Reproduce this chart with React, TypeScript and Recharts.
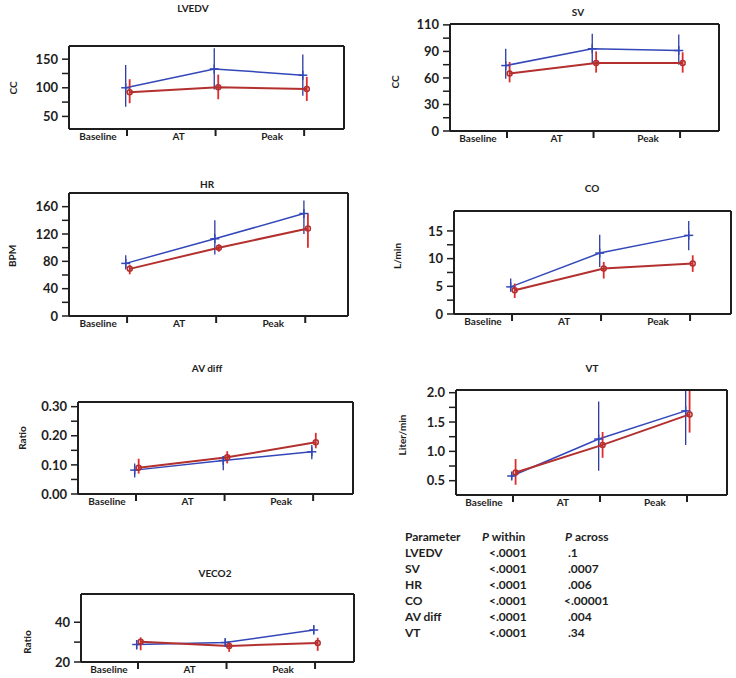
import React from "react";
import { LineChart, Line, XAxis, YAxis, ErrorBar } from "recharts";

const phases = ["Baseline", "AT", "Peak"];

// LVEDV (cc)
const lvedvBlue = [100, 133, 122];
const lvedvBlueLo = [67, 97, 86];
const lvedvBlueHi = [140, 169, 158];
const lvedvRed = [92, 101, 98];
const lvedvRedLo = [73, 80, 77];
const lvedvRedHi = [115, 123, 119];
const lvedvTicks = [50, 75, 100, 125, 150];
const lvedvTickLabels = ["50", "", "100", "", "150"];

// SV (cc)
const svBlue = [74, 93, 91];
const svBlueLo = [59, 76, 75];
const svBlueHi = [93, 110, 109];
const svRed = [65, 77, 77];
const svRedLo = [55, 66, 66];
const svRedHi = [78, 90, 89];
const svTicks = [0, 15, 30, 45, 60, 75, 90, 105, 120];
const svTickLabels = ["0", "", "30", "", "60", "", "90", "", "110"];

// HR (bpm)
const hrBlue = [77, 113, 150];
const hrBlueLo = [68, 90, 120];
const hrBlueHi = [89, 140, 169];
const hrRed = [69, 100, 128];
const hrRedLo = [61, 94, 100];
const hrRedHi = [75, 105, 150];
const hrTicks = [0, 20, 40, 60, 80, 100, 120, 140, 160];
const hrTickLabels = ["0", "", "40", "", "80", "", "120", "", "160"];

// CO (L/min)
const coBlue = [4.9, 11.0, 14.2];
const coBlueLo = [4.0, 8.5, 11.5];
const coBlueHi = [6.4, 14.3, 16.8];
const coRed = [4.3, 8.2, 9.1];
const coRedLo = [2.9, 6.4, 7.6];
const coRedHi = [5.5, 9.4, 10.6];
const coTicks = [0, 2.5, 5, 7.5, 10, 12.5, 15];
const coTickLabels = ["0", "", "5", "", "10", "", "15"];

// AV diff (ratio)
const avBlue = [0.082, 0.115, 0.145];
const avBlueLo = [0.057, 0.082, 0.119];
const avBlueHi = [0.105, 0.13, 0.168];
const avRed = [0.09, 0.126, 0.178];
const avRedLo = [0.07, 0.105, 0.157];
const avRedHi = [0.121, 0.147, 0.21];
const avTicks = [0, 0.05, 0.1, 0.15, 0.2, 0.25, 0.3];
const avTickLabels = ["0.00", "", "0.10", "", "0.20", "", "0.30"];

// VT (liter/min)
const vtBlue = [0.58, 1.21, 1.69];
const vtBlueLo = [0.52, 0.67, 1.11];
const vtBlueHi = [0.64, 1.85, 2.04];
const vtRed = [0.64, 1.11, 1.63];
const vtRedLo = [0.43, 0.89, 1.32];
const vtRedHi = [0.87, 1.33, 2.04];
const vtTicks = [0.5, 0.75, 1.0, 1.25, 1.5, 1.75, 2.0];
const vtTickLabels = ["0.5", "", "1.0", "", "1.5", "", "2.0"];

// VECO2 (ratio)
const veBlue = [28.8, 29.8, 36.1];
const veBlueLo = [26.3, 28, 34];
const veBlueHi = [31, 31.5, 38.6];
const veRed = [30.2, 28.1, 29.6];
const veRedLo = [25.9, 25.1, 25.6];
const veRedHi = [32.4, 30.2, 32.2];
const veTicks = [20, 30, 40];
const veTickLabels = ["20", "", "40"];

// p-value table
const tableParams = ["LVEDV", "SV", "HR", "CO", "AV diff", "VT"];
const tableWithin = ["<.0001", "<.0001", "<.0001", "<.0001", "<.0001", "<.0001"];
const tableAcross = [".1", ".0007", ".006", "<.00001", ".004", ".34"];

const FONT = "Lato, 'Open Sans', sans-serif";
const INK = "#1e1e1e";
const BLUE_LINE = "#3347b8";
const BLUE_BAR = "#2b3aa0";
const RED_LINE = "#b3302f";
const RED_BAR = "#e02b2b";

const labelShift = [-29, -37, -32];

function buildRows(blue: number[], blueLo: number[], blueHi: number[], red: number[], redLo: number[], redHi: number[]) {
  return phases.map((p, i) => ({
    phase: p,
    xb: i + 1 - 0.015,
    xr: i + 1 + 0.03,
    blue: blue[i],
    blueErr: [blue[i] - blueLo[i], blueHi[i] - blue[i]],
    red: red[i],
    redErr: [red[i] - redLo[i], redHi[i] - red[i]],
  }));
}

function PhaseTick(props: any) {
  const { x, y, payload } = props;
  const i = Math.round(payload.value) - 1;
  return (
    <g>
      <line x1={x} x2={x} y1={y + 1} y2={y + 7} stroke={INK} strokeWidth={2} />
      <text
        x={x + labelShift[i]}
        y={y + 11}
        textAnchor="middle"
        fontSize={10}
        fontWeight={700}
        fill={INK}
        fontFamily={FONT}
      >
        {phases[i]}
      </text>
    </g>
  );
}

function PlusDot(props: any) {
  const { cx, cy, index } = props;
  if (cx == null || cy == null) return null;
  return (
    <g key={`p-${index}`}>
      <line x1={cx - 4.5} x2={cx + 4.5} y1={cy} y2={cy} stroke={BLUE_LINE} strokeWidth={1.5} />
      <line x1={cx} x2={cx} y1={cy - 4.5} y2={cy + 4.5} stroke={BLUE_LINE} strokeWidth={1.5} />
    </g>
  );
}

function RingDot(props: any) {
  const { cx, cy, index } = props;
  if (cx == null || cy == null) return null;
  return <circle key={`r-${index}`} cx={cx} cy={cy} r={2.5} fill="none" stroke={RED_LINE} strokeWidth={1.5} />;
}

interface PanelProps {
  rows: ReturnType<typeof buildRows>;
  box: { l: number; t: number; r: number; b: number };
  xDomain: [number, number];
  yDomain: [number, number];
  ticks: number[];
  tickLabels: string[];
}

function Panel({ rows, box, xDomain, yDomain, ticks, tickLabels }: PanelProps) {
  const w = box.r - box.l + 50;
  const h = box.b - box.t + 38;
  const frame = { stroke: INK, strokeWidth: 2 };
  return (
    <div style={{ position: "absolute", left: box.l - 45, top: box.t - 12 }}>
      <LineChart width={w} height={h} data={rows} margin={{ top: 11, right: 4, bottom: 4, left: 5 }}>
        <XAxis
          xAxisId="b"
          type="number"
          dataKey="xb"
          domain={xDomain}
          ticks={[1, 2, 3]}
          tick={<PhaseTick />}
          tickLine={false}
          tickSize={0}
          tickMargin={0}
          axisLine={frame}
          height={22}
          allowDataOverflow
        />
        <XAxis
          xAxisId="t"
          orientation="top"
          type="number"
          dataKey="xr"
          domain={xDomain}
          tick={false}
          tickLine={false}
          axisLine={frame}
          height={1}
          allowDataOverflow
        />
        <YAxis
          yAxisId="l"
          type="number"
          domain={yDomain}
          ticks={ticks}
          interval={0}
          tickFormatter={(v: number) => tickLabels[ticks.indexOf(v)] ?? ""}
          tick={{ fontSize: 13, fontWeight: 700, fill: INK, fontFamily: FONT }}
          tickSize={7}
          tickMargin={4}
          tickLine={{ stroke: INK, strokeWidth: 1.5 }}
          axisLine={frame}
          width={40}
          allowDataOverflow
        />
        <YAxis
          yAxisId="r"
          orientation="right"
          type="number"
          domain={yDomain}
          tick={false}
          tickLine={false}
          axisLine={frame}
          width={1}
          allowDataOverflow
        />
        <Line
          xAxisId="b"
          yAxisId="l"
          dataKey="blue"
          stroke={BLUE_LINE}
          strokeWidth={1.5}
          dot={PlusDot}
          activeDot={false}
          isAnimationActive={false}
        >
          <ErrorBar dataKey="blueErr" direction="y" width={0} stroke={BLUE_BAR} strokeWidth={1.3} isAnimationActive={false} />
        </Line>
        <Line
          xAxisId="t"
          yAxisId="r"
          dataKey="red"
          stroke={RED_LINE}
          strokeWidth={2}
          dot={RingDot}
          activeDot={false}
          isAnimationActive={false}
        >
          <ErrorBar dataKey="redErr" direction="y" width={0} stroke={RED_BAR} strokeWidth={1.8} isAnimationActive={false} />
        </Line>
      </LineChart>
    </div>
  );
}

function Title({ x, y, text }: { x: number; y: number; text: string }) {
  return (
    <div
      style={{
        position: "absolute",
        left: x,
        top: y,
        transform: "translate(-50%, -50%)",
        fontSize: 10,
        fontWeight: 700,
        whiteSpace: "nowrap",
        color: INK,
      }}
    >
      {text}
    </div>
  );
}

function Unit({ x, y, text }: { x: number; y: number; text: string }) {
  return (
    <div
      style={{
        position: "absolute",
        left: x,
        top: y,
        transform: "translate(-50%, -50%) rotate(-90deg)",
        fontSize: 10,
        fontWeight: 700,
        whiteSpace: "nowrap",
        color: INK,
      }}
    >
      {text}
    </div>
  );
}

export default function App() {
  const tableTop = 537;
  return (
    <div
      style={{
        position: "absolute",
        left: 0,
        top: 0,
        width: 736,
        height: 678,
        overflow: "hidden",
        background: "#fff",
        fontFamily: FONT,
      }}
    >
      <Title x={193} y={8} text="LVEDV" />
      <Unit x={13} y={88} text="CC" />
      <Panel
        rows={buildRows(lvedvBlue, lvedvBlueLo, lvedvBlueHi, lvedvRed, lvedvRedLo, lvedvRedHi)}
        box={{ l: 69, t: 46, r: 344, b: 129 }}
        xDomain={[0.345, 3.45]}
        yDomain={[28, 173]}
        ticks={lvedvTicks}
        tickLabels={lvedvTickLabels}
      />

      <Title x={578} y={12} text="SV" />
      <Unit x={395} y={82} text="CC" />
      <Panel
        rows={buildRows(svBlue, svBlueLo, svBlueHi, svRed, svRedLo, svRedHi)}
        box={{ l: 450, t: 24, r: 719, b: 131 }}
        xDomain={[0.341, 3.45]}
        yDomain={[0, 121]}
        ticks={svTicks}
        tickLabels={svTickLabels}
      />

      <Title x={207} y={184} text="HR" />
      <Unit x={12} y={256} text="BPM" />
      <Panel
        rows={buildRows(hrBlue, hrBlueLo, hrBlueHi, hrRed, hrRedLo, hrRedHi)}
        box={{ l: 69, t: 193, r: 348, b: 316 }}
        xDomain={[0.348, 3.48]}
        yDomain={[0, 180]}
        ticks={hrTicks}
        tickLabels={hrTickLabels}
      />

      <Title x={592} y={188} text="CO" />
      <Unit x={397} y={256} text="L/min" />
      <Panel
        rows={buildRows(coBlue, coBlueLo, coBlueHi, coRed, coRedLo, coRedHi)}
        box={{ l: 454, t: 211, r: 731, b: 314 }}
        xDomain={[0.348, 3.46]}
        yDomain={[0, 18.6]}
        ticks={coTicks}
        tickLabels={coTickLabels}
      />

      <Title x={207} y={368} text="AV diff" />
      <Unit x={22} y={438} text="Ratio" />
      <Panel
        rows={buildRows(avBlue, avBlueLo, avBlueHi, avRed, avRedLo, avRedHi)}
        box={{ l: 78, t: 402, r: 353, b: 494 }}
        xDomain={[0.345, 3.45]}
        yDomain={[0, 0.316]}
        ticks={avTicks}
        tickLabels={avTickLabels}
      />

      <Title x={592} y={368} text="VT" />
      <Unit x={402} y={435} text="Liter/min" />
      <Panel
        rows={buildRows(vtBlue, vtBlueLo, vtBlueHi, vtRed, vtRedLo, vtRedHi)}
        box={{ l: 456, t: 390, r: 727, b: 495 }}
        xDomain={[0.345, 3.46]}
        yDomain={[0.256, 2.046]}
        ticks={vtTicks}
        tickLabels={vtTickLabels}
      />

      <Title x={215} y={573} text="VECO2" />
      <Unit x={27} y={642} text="Ratio" />
      <Panel
        rows={buildRows(veBlue, veBlueLo, veBlueHi, veRed, veRedLo, veRedHi)}
        box={{ l: 81, t: 594, r: 354, b: 662 }}
        xDomain={[0.356, 3.44]}
        yDomain={[20, 54.2]}
        ticks={veTicks}
        tickLabels={veTickLabels}
      />

      <div style={{ position: "absolute", left: 0, top: 0, fontSize: 12, fontWeight: 700, color: INK }}>
        <div style={{ position: "absolute", left: 405, top: tableTop - 8, whiteSpace: "nowrap" }}>Parameter</div>
        <div style={{ position: "absolute", left: 482, top: tableTop - 8, whiteSpace: "nowrap" }}>
          <i>P</i> within
        </div>
        <div style={{ position: "absolute", left: 565, top: tableTop - 8, whiteSpace: "nowrap" }}>
          <i>P</i> across
        </div>
        {tableParams.map((p, i) => (
          <React.Fragment key={p}>
            <div style={{ position: "absolute", left: 405, top: tableTop - 8 + (i + 1) * 16, whiteSpace: "nowrap" }}>{p}</div>
            <div style={{ position: "absolute", left: 489, top: tableTop - 8 + (i + 1) * 16, whiteSpace: "nowrap" }}>
              {tableWithin[i]}
            </div>
            <div
              style={{
                position: "absolute",
                left: tableAcross[i].startsWith("<") ? 564 : 568,
                top: tableTop - 8 + (i + 1) * 16,
                whiteSpace: "nowrap",
              }}
            >
              {tableAcross[i]}
            </div>
          </React.Fragment>
        ))}
      </div>
    </div>
  );
}
